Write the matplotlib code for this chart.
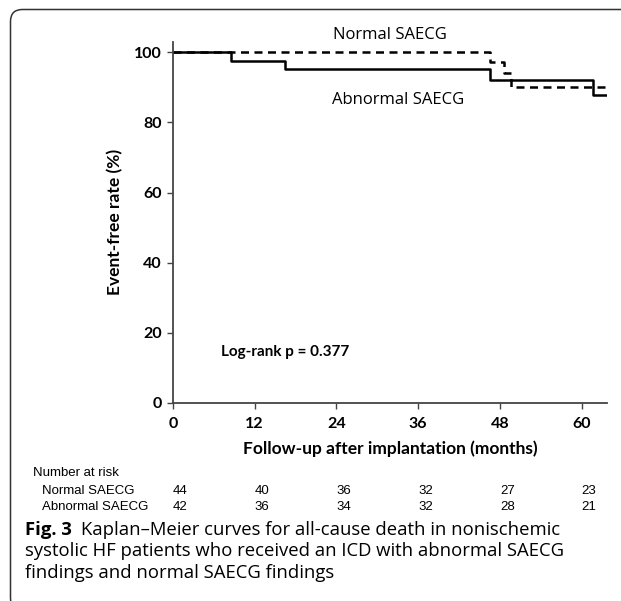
import numpy as np
import matplotlib
matplotlib.use("Agg")
import matplotlib.pyplot as plt
from matplotlib.patches import FancyBboxPatch
from matplotlib.transforms import blended_transform_factory, IdentityTransform

# Kaplan-Meier step data (months, event-free %)
normal_t = [0, 46.6, 48.6, 49.6, 63.7]
normal_s = [100, 97.3, 94.0, 90.1, 90.1]
abnormal_t = [0, 8.5, 16.4, 46.5, 61.7, 63.7]
abnormal_s = [100, 97.6, 95.2, 92.0, 87.7, 87.7]

xticks = [0, 12, 24, 36, 48, 60]
yticks = [0, 20, 40, 60, 80, 100]

risk_groups = ["Normal SAECG", "Abnormal SAECG"]
risk_normal = [44, 40, 36, 32, 27, 23]
risk_abnormal = [42, 36, 34, 32, 28, 21]

caption_bold = "Fig. 3"
caption_lines = ["Kaplan\u2013Meier curves for all-cause death in nonischemic",
                 "systolic HF patients who received an ICD with abnormal SAECG",
                 "findings and normal SAECG findings"]

W, H = 621, 601
fig = plt.figure(figsize=(W/100, H/100), dpi=100)

# rounded frame around the whole figure (open to the right and bottom), in pixels
box = FancyBboxPatch((10.5, -9), 800, H - 9.5 + 9,
                     boxstyle="round,pad=0,rounding_size=12",
                     transform=IdentityTransform(), fill=False,
                     edgecolor="#333333", linewidth=1.1)
fig.patches.append(box)

ax = fig.add_axes([173/W, (H-403)/H, (606.7-173)/W, (403-41.7)/H])
ax.step(normal_t, normal_s, where="post", color="black", linestyle=(0, (3.2, 2.2)), linewidth=1.8)
ax.step(abnormal_t, abnormal_s, where="post", color="black", linewidth=1.8)

ax.set_xlim(0, 63.7)
ax.set_ylim(0, 103)
ax.spines["top"].set_visible(False)
ax.spines["right"].set_visible(False)
ax.spines["left"].set_color("#444444")
ax.spines["bottom"].set_color("#444444")
ax.spines["left"].set_linewidth(1.3)
ax.spines["bottom"].set_linewidth(1.3)

bold_font = "Lato"
ax.set_xticks(xticks)
ax.set_yticks(yticks)
ax.set_xticklabels([str(v) for v in xticks], fontfamily=bold_font, fontweight="bold", fontsize=11.5)
ax.set_yticklabels([str(v) for v in yticks], fontfamily=bold_font, fontweight="bold", fontsize=11.5)
ax.tick_params(axis="both", direction="out", length=4, width=1, color="#444444")
ax.tick_params(axis="x", pad=6)
ax.tick_params(axis="y", pad=4)

ax.set_xlabel("Follow-up after implantation (months)", fontfamily=bold_font, fontweight="bold",
              fontsize=12.5, labelpad=7)
ax.set_ylabel("Event-free rate (%)", fontfamily=bold_font, fontweight="bold", fontsize=12.5, labelpad=8)

ax.text(31.9, 104.8, "Normal SAECG", ha="center", va="center", fontfamily="Open Sans", fontsize=12,
        clip_on=False)
ax.text(33.0, 86.4, "Abnormal SAECG", ha="center", va="center", fontfamily="Open Sans", fontsize=12)
ax.text(16.4, 14.4, "Log-rank p = 0.377", ha="center", va="center", fontfamily=bold_font,
        fontweight="bold", fontsize=11)

# number at risk table
tr = blended_transform_factory(ax.transData, fig.transFigure)
fig.text(33/W, 1 - 473/H, "Number at risk", fontfamily="Liberation Sans", fontsize=9.5, va="center")
for row, (name, counts) in enumerate(zip(risk_groups, [risk_normal, risk_abnormal])):
    yy = 1 - (491.5 + row*15)/H
    fig.text(41.5/W, yy, name, fontfamily="Liberation Sans", fontsize=9.5, va="center")
    for m, c in zip(xticks, counts):
        ax.text(m + 1.1, yy, str(c), transform=tr, ha="center", va="center",
                fontfamily="Liberation Sans", fontsize=9.5)

# caption
cap_y = [530, 551.5, 573]
t = fig.text(25/W, 1 - cap_y[0]/H, caption_bold, fontfamily="Open Sans", fontweight="bold",
             fontsize=13.3, va="center")
fig.canvas.draw()
bb = t.get_window_extent()
fig.text((bb.x1 + 9)/W, 1 - cap_y[0]/H, caption_lines[0], fontfamily="Open Sans", fontsize=13.3, va="center")
for yy, line in zip(cap_y[1:], caption_lines[1:]):
    fig.text(25/W, 1 - yy/H, line, fontfamily="Open Sans", fontsize=13.3, va="center")

fig.savefig("out.png", dpi=100)
